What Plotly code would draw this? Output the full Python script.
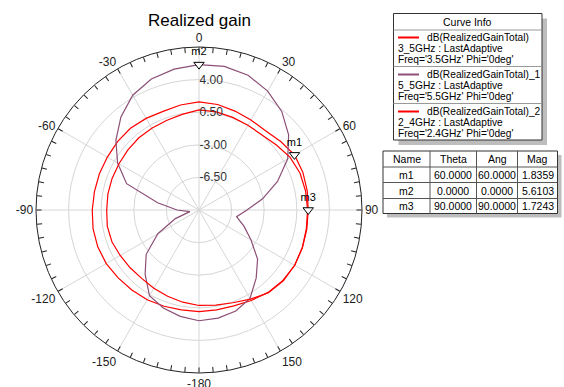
import plotly.graph_objects as go

# ---------------- data ----------------
theta = list(range(-180, 181, 10))

gain_3_5ghz = [0.92, 0.88, 1.00, 1.12, 1.22, 1.33, 1.50, 1.57, 1.55, 1.46,
               1.40, 1.38, 1.36, 1.42, 1.45, 1.36, 1.27, 1.45, 1.60,
               1.50, 1.30, 1.15, 1.12, 1.45, 1.8359, 1.86, 1.80, 1.7243, 1.76,
               1.82, 1.87, 1.76, 1.55, 1.22, 0.95, 0.88, 0.92]

gain_5_5ghz = [1.89, 1.60, 1.20, 0.63, -1.00, -2.60, -4.90, -7.30, -9.00, -7.64,
               -5.49, -1.73, 0.09, 1.65, 3.04, 4.23, 4.96, 5.35, 5.6103,
               5.65, 5.40, 4.74, 3.82, 2.56, 1.00, -1.03, -3.07, -4.85, -5.90,
               -4.85, -3.55, -1.79, -0.45, 0.95, 1.54, 1.78, 1.89]

gain_2_4ghz = [0.25, 0.05, -0.15, -0.30, -0.42, -0.35, -0.23, -0.05, 0.00, -0.09,
               -0.07, -0.07, -0.08, -0.01, 0.09, 0.14, 0.22, 0.42, 0.74,
               0.70, 0.58, 0.50, 0.52, 0.85, 1.30, 1.55, 1.62, 1.66, 1.70,
               1.80, 1.86, 1.82, 1.60, 1.05, 0.60, 0.38, 0.25]

radial_tickvals = [-6.5, -3.0, 0.5, 4.0]
radial_ticktext = ["-6.50", "-3.00", "0.50", "4.00"]
radial_range = [-10, 7.5]

angle_tickvals = list(range(0, 360, 5))
angle_labels = {0: "0", 30: "30", 60: "60", 90: "90", 120: "120", 150: "150",
                180: "-180", 210: "-150", 240: "-120", 270: "-90", 300: "-60", 330: "-30"}
spoke_angles = list(range(0, 360, 30))

curve_names = ["dB(RealizedGainTotal)", "dB(RealizedGainTotal)_1", "dB(RealizedGainTotal)_2"]
curve_setups = ["3_5GHz : LastAdaptive", "5_5GHz : LastAdaptive", "2_4GHz : LastAdaptive"]
curve_freqs = ["Freq='3.5GHz' Phi='0deg'", "Freq='5.5GHz' Phi='0deg'", "Freq='2.4GHz' Phi='0deg'"]
curve_colors = ["#ff0000", "#8c4f76", "#ff0000"]

marker_names = ["m1", "m2", "m3"]
marker_theta = [60.0, 0.0, 90.0]
marker_ang = [60.0, 0.0, 90.0]
marker_mag = [1.8359, 5.6103, 1.7243]
table_header = ["Name", "Theta", "Ang", "Mag"]

# ---------------- figure ----------------
W, H = 564, 387
FONT = "Liberation Sans, Arial, sans-serif"


def px(x):
    return x / W


def py(y):
    return 1 - y / H


fig = go.Figure()

# spokes every 30 degrees
sr, st = [], []
for a in spoke_angles:
    sr += [radial_range[0], radial_range[1], None]
    st += [a, a, None]
fig.add_trace(go.Scatterpolar(r=sr, theta=st, mode="lines",
                              line=dict(color="#d6d6d6", width=1),
                              hoverinfo="skip", showlegend=False))

series = [gain_3_5ghz, gain_5_5ghz, gain_2_4ghz]
for vals, col, name in zip(series, curve_colors, curve_names):
    fig.add_trace(go.Scatterpolar(r=vals, theta=theta, mode="lines",
                                  line=dict(color=col, width=1.2),
                                  name=name, showlegend=False))

fig.add_trace(go.Scatterpolar(
    r=marker_mag, theta=marker_theta, mode="markers+text", text=marker_names,
    textposition="top center", textfont=dict(family=FONT, size=11, color="#000"),
    marker=dict(symbol="triangle-down", size=9, color="white",
                line=dict(color="#000", width=1)),
    showlegend=False, hoverinfo="skip"))

cx, cy, R = 199, 210, 163
fig.update_layout(
    width=W, height=H, margin=dict(l=0, r=0, t=0, b=0),
    paper_bgcolor="white", plot_bgcolor="white", showlegend=False,
    font=dict(family=FONT, size=12, color="#222"),
    polar=dict(
        domain=dict(x=[px(cx - R), px(cx + R)], y=[py(cy + R), py(cy - R)]),
        bgcolor="white",
        radialaxis=dict(range=radial_range, tickvals=radial_tickvals,
                        ticktext=radial_ticktext, angle=90, tickangle=90,
                        showline=False, ticks="", gridcolor="#d6d6d6",
                        gridwidth=1, tickfont=dict(family=FONT, size=12, color="#333"),
                        layer="above traces"),
        angularaxis=dict(rotation=90, direction="clockwise",
                         tickmode="array", tickvals=angle_tickvals,
                         ticktext=[angle_labels.get(v, "") for v in angle_tickvals],
                         showgrid=False, ticks="inside", ticklen=5,
                         tickcolor="#222", showline=True, linecolor="#222",
                         linewidth=1, tickfont=dict(family=FONT, size=12, color="#222")),
    ),
)

shapes = []
annotations = []

# title
annotations.append(dict(x=px(199), y=py(20), xref="paper", yref="paper",
                        text="Realized gain", showarrow=False,
                        font=dict(family=FONT, size=17, color="#000"),
                        xanchor="center", yanchor="middle"))

# ---- Curve Info box ----
L, T, Rr, B = 393.5, 13.5, 542, 140
shapes.append(dict(type="rect", xref="paper", yref="paper",
                   x0=px(L + 5), x1=px(Rr + 5), y0=py(B + 5), y1=py(T + 5),
                   fillcolor="#bdbdbd", line=dict(width=0), layer="above"))
shapes.append(dict(type="rect", xref="paper", yref="paper",
                   x0=px(L), x1=px(Rr), y0=py(B), y1=py(T),
                   fillcolor="white", line=dict(color="#333", width=1), layer="above"))
for ys in [30, 66.5, 103.5]:
    shapes.append(dict(type="line", xref="paper", yref="paper",
                       x0=px(L), x1=px(Rr), y0=py(ys), y1=py(ys),
                       line=dict(color="#999", width=1), layer="above"))
annotations.append(dict(x=px((L + Rr) / 2), y=py(22), xref="paper", yref="paper",
                        text="Curve Info", showarrow=False,
                        font=dict(family=FONT, size=10.5, color="#000"),
                        xanchor="center", yanchor="middle"))
entry_top = [37.5, 74.5, 111.5]
ENTRY_FONT = dict(family=FONT, size=10.2, color="#000")
for i in range(3):
    y0 = entry_top[i]
    shapes.append(dict(type="line", xref="paper", yref="paper",
                       x0=px(398), x1=px(419), y0=py(y0), y1=py(y0),
                       line=dict(color=curve_colors[i], width=2), layer="above"))
    annotations.append(dict(x=px(425), y=py(y0), xref="paper", yref="paper",
                            text=curve_names[i], showarrow=False, font=ENTRY_FONT,
                            xanchor="left", yanchor="middle"))
    annotations.append(dict(x=px(395.5), y=py(y0 + 11.3), xref="paper", yref="paper",
                            text=curve_setups[i], showarrow=False, font=ENTRY_FONT,
                            xanchor="left", yanchor="middle"))
    annotations.append(dict(x=px(395.5), y=py(y0 + 22.3), xref="paper", yref="paper",
                            text=curve_freqs[i], showarrow=False, font=ENTRY_FONT,
                            xanchor="left", yanchor="middle"))

# ---- marker table ----
tl, tt, tr, tb = 383, 151, 557.5, 213.5
cols = [tl, 430, 476.5, 517.5, tr]
rows = [tt, 167, 182.5, 198.5, tb]
shapes.append(dict(type="rect", xref="paper", yref="paper",
                   x0=px(tl + 4), x1=px(tr + 4), y0=py(tb + 4), y1=py(tt + 4),
                   fillcolor="#bdbdbd", line=dict(width=0), layer="above"))
shapes.append(dict(type="rect", xref="paper", yref="paper",
                   x0=px(tl), x1=px(tr), y0=py(tb), y1=py(tt),
                   fillcolor="white", line=dict(color="#333", width=1), layer="above"))
for xc in cols[1:-1]:
    shapes.append(dict(type="line", xref="paper", yref="paper",
                       x0=px(xc), x1=px(xc), y0=py(tb), y1=py(tt),
                       line=dict(color="#555", width=1), layer="above"))
for yr in rows[1:-1]:
    shapes.append(dict(type="line", xref="paper", yref="paper",
                       x0=px(tl), x1=px(tr), y0=py(yr), y1=py(yr),
                       line=dict(color="#555", width=1), layer="above"))

table_rows = [table_header] + [
    [n, f"{t:.4f}", f"{a:.4f}", f"{m:.4f}"]
    for n, t, a, m in zip(marker_names, marker_theta, marker_ang, marker_mag)]
for ri, row in enumerate(table_rows):
    ymid = (rows[ri] + rows[ri + 1]) / 2
    for ci, txt in enumerate(row):
        xmid = (cols[ci] + cols[ci + 1]) / 2
        annotations.append(dict(x=px(xmid), y=py(ymid), xref="paper", yref="paper",
                                text=txt, showarrow=False,
                                font=dict(family=FONT, size=10.5, color="#000"),
                                xanchor="center", yanchor="middle"))

fig.update_layout(shapes=shapes, annotations=annotations)
fig.write_html("out.html", config={"displayModeBar": False},
               post_script="document.body.style.margin='0';document.body.style.overflow='hidden';")
